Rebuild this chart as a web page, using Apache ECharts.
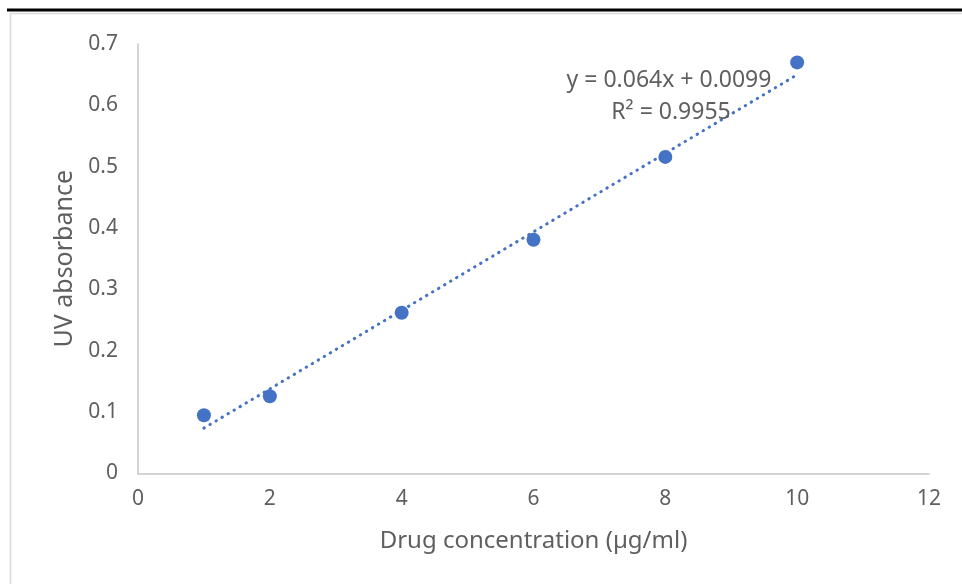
<!DOCTYPE html>
<html>
<head>
<meta charset="utf-8">
<script src="https://cdn.jsdelivr.net/npm/echarts@6/dist/echarts.min.js"></script>
<style>
  html, body { margin: 0; padding: 0; background: #fff; }
  #chart { width: 962px; height: 584px; }
</style>
</head>
<body>
<div id="chart"></div>
<script>
// Calibration data: drug concentration (µg/ml) vs UV absorbance
const concentration = [1, 2, 4, 6, 8, 10];
const absorbance = [0.095, 0.126, 0.262, 0.381, 0.516, 0.670];

// Linear fit reported on the chart
const slope = 0.064;
const intercept = 0.0099;
const rSquared = 0.9955;
const trendX = [1, 10];

const xTicks = [0, 2, 4, 6, 8, 10, 12];
const yTicks = [0, 0.1, 0.2, 0.3, 0.4, 0.5, 0.6, 0.7];

const FONT = '"Noto Sans", sans-serif';
const TEXT = '#5f5f5f';
const BLUE = '#4472C4';

const chart = echarts.init(document.getElementById('chart'));

const trendData = trendX.map(x => [x, slope * x + intercept]);

chart.setOption({
  animation: false,
  backgroundColor: '#fff',
  grid: { left: 138, top: 44, right: 33, bottom: 110.5, containLabel: false },
  xAxis: {
    type: 'value',
    min: xTicks[0],
    max: xTicks[xTicks.length - 1],
    interval: 2,
    name: 'Drug concentration (µg/ml)',
    nameLocation: 'middle',
    nameGap: 56,
    nameTextStyle: { color: TEXT, fontSize: 24, fontFamily: FONT },
    axisLine: { show: true, lineStyle: { color: '#c6c6c6', width: 1.5 } },
    axisTick: { show: false },
    splitLine: { show: false },
    axisLabel: { color: TEXT, fontSize: 21, fontFamily: FONT, margin: 15 }
  },
  yAxis: {
    type: 'value',
    min: yTicks[0],
    max: yTicks[yTicks.length - 1],
    interval: 0.1,
    name: 'UV absorbance',
    nameLocation: 'middle',
    nameGap: 60,
    nameRotate: 90,
    nameTextStyle: { color: TEXT, fontSize: 25, fontFamily: FONT },
    axisLine: { show: true, lineStyle: { color: '#c6c6c6', width: 1.5 } },
    axisTick: { show: false },
    splitLine: { show: false },
    axisLabel: {
      color: TEXT, fontSize: 21, fontFamily: FONT, margin: 20,
      formatter: v => (Math.round(v * 10) / 10).toString()
    }
  },
  series: [
    {
      type: 'line',
      data: trendData,
      showSymbol: false,
      silent: true,
      z: 2,
      lineStyle: { color: BLUE, width: 3, type: [0.5, 6.5], cap: 'round' }
    },
    {
      type: 'scatter',
      data: concentration.map((x, i) => [x, absorbance[i]]),
      symbol: 'circle',
      symbolSize: 14,
      z: 3,
      itemStyle: { color: BLUE, opacity: 1 }
    }
  ],
  graphic: [
    // outer frame edges
    { type: 'line', shape: { x1: 7, y1: 10, x2: 962, y2: 10 }, style: { stroke: '#000', lineWidth: 3 }, z: 10 },
    { type: 'line', shape: { x1: 10, y1: 13.5, x2: 962, y2: 13.5 }, style: { stroke: '#d9d9d9', lineWidth: 1.5 }, z: 10 },
    { type: 'line', shape: { x1: 10.5, y1: 13, x2: 10.5, y2: 584 }, style: { stroke: '#d9d9d9', lineWidth: 1.5 }, z: 10 },
    // trendline equation
    {
      type: 'text', x: 669, y: 80, z: 10,
      style: {
        text: 'y = ' + slope + 'x + ' + intercept,
        fill: TEXT, font: '23px ' + FONT, align: 'center', verticalAlign: 'middle'
      }
    },
    {
      type: 'text', x: 671, y: 112, z: 10,
      style: {
        text: 'R² = ' + rSquared,
        fill: TEXT, font: '23px ' + FONT, align: 'center', verticalAlign: 'middle'
      }
    }
  ]
});
</script>
</body>
</html>
